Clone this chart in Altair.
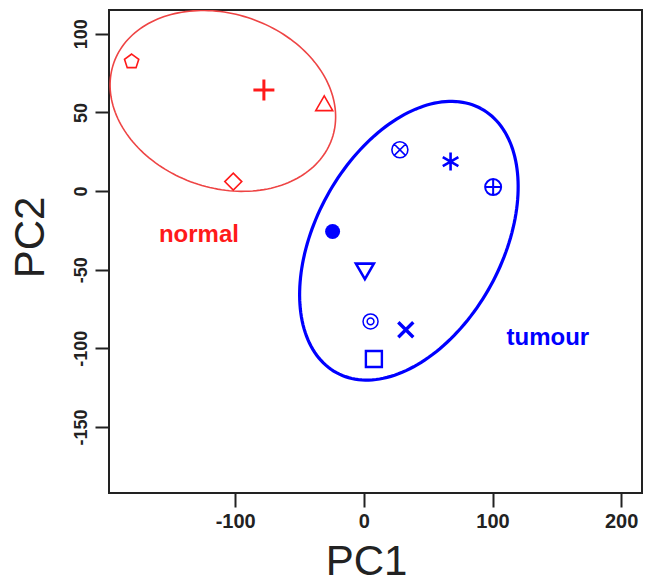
import altair as alt
import numpy as np
import pandas as pd

# ---- data ----
pc1 = [-180.5, -77.7, -30.8, -101.5, 28.0, 67.4, 100.5, -24.3, 0.8, 5.2, 32.6, 7.8]
pc2 = [82.3, 64.3, 55.8, 6.0, 26.2, 18.7, 2.5, -25.7, -51.1, -82.9, -88.2, -106.8]
group = ["normal"] * 4 + ["tumour"] * 8
symbol = ["pentagon", "plus", "triangle", "diamond",
          "circle_x", "asterisk", "circle_plus", "dot",
          "triangle_down", "double_circle", "cross", "square"]

# ellipse parameters (centre and two conjugate semi-axis vectors, data units)
ell_group = ["normal", "tumour"]
ell_cx = [-109.6, 35.0]
ell_cy = [57.3, -31.6]
ell_ax = [84.8, 56.3]
ell_ay = [-24.1, 83.9]
ell_bx = [-22.2, 63.6]
ell_by = [-52.2, -28.5]

label_text = ["normal", "tumour"]
label_x = [-128.2, 143.0]
label_y = [-27.8, -93.3]

x_ticks = [-100, 0, 100, 200]
y_ticks = [-150, -100, -50, 0, 50, 100]

# ---- styles ----
CIRC = "M-1,0A1,1 0 1,0 1,0A1,1 0 1,0 -1,0"
SHAPES = {
    "pentagon": ("M0,-1L0.951,-0.309L0.588,0.809L-0.588,0.809L-0.951,-0.309Z", 15, 1.6),
    "plus": ("M-1,0L1,0M0,-1L0,1", 21, 3.0),
    "triangle": ("triangle-up", 17, 1.6),
    "diamond": ("diamond", 17, 1.6),
    "circle_x": (CIRC + "M-0.7,-0.7L0.7,0.7M-0.7,0.7L0.7,-0.7", 16, 1.6),
    "asterisk": ("M0,-1L0,1M-0.866,-0.5L0.866,0.5M-0.866,0.5L0.866,-0.5", 18, 2.6),
    "circle_plus": (CIRC + "M-1,0L1,0M0,-1L0,1", 16, 2.0),
    "dot": ("circle", 15, 1.0),
    "triangle_down": ("triangle-down", 18, 2.6),
    "double_circle": (CIRC + "M-0.45,0A0.45,0.45 0 1,0 0.45,0A0.45,0.45 0 1,0 -0.45,0", 15, 1.5),
    "cross": ("M-1,-1L1,1M-1,1L1,-1", 15, 3.4),
    "square": ("square", 16, 2.4),
}
GROUP_COLORS = {"normal": "#ff1a1a", "tumour": "#0000ff"}
ELL_COLORS = {"normal": "#ee4444", "tumour": "#0000ff"}
ELL_WIDTH = {"normal": 1.6, "tumour": 3.2}
FONT = "Liberation Sans"

pts = pd.DataFrame({"pc1": pc1, "pc2": pc2, "group": group, "symbol": symbol})
pts["shape"] = [SHAPES[s][0] for s in symbol]
pts["size"] = [SHAPES[s][1] ** 2 for s in symbol]
pts["sw"] = [SHAPES[s][2] for s in symbol]
pts["col"] = [GROUP_COLORS[g] for g in group]

xscale = alt.Scale(domain=[-198.1, 216.2], nice=False, zero=False)
yscale = alt.Scale(domain=[-192.0, 115.1], nice=False, zero=False)

x_axis = alt.Axis(values=x_ticks, title="PC1", grid=False, domain=False,
                  labelExpr="'' + datum.value",
                  tickSize=14, tickWidth=2, tickColor="#222222",
                  labelFont=FONT, labelFontSize=20, labelFontWeight="bold",
                  labelColor="#222222", labelPadding=4,
                  titleFont=FONT, titleFontSize=42, titleFontWeight="normal",
                  titleColor="#222222", titleX=257, titleY=81,
                  titleBaseline="alphabetic", titleAlign="center")
y_axis = alt.Axis(values=y_ticks, title="PC2", grid=False, domain=False,
                  labelExpr="'' + datum.value",
                  tickSize=14, tickWidth=2, tickColor="#222222",
                  labelFont=FONT, labelFontSize=18, labelFontWeight="bold",
                  labelColor="#222222", labelPadding=5, labelAngle=270,
                  labelAlign="center", labelBaseline="bottom",
                  titleFont=FONT, titleFontSize=42, titleFontWeight="normal",
                  titleColor="#222222", titleAngle=270, titleX=-66, titleY=227,
                  titleBaseline="alphabetic", titleAlign="center")

X = alt.X("pc1:Q", scale=xscale, axis=x_axis)
Y = alt.Y("pc2:Q", scale=yscale, axis=y_axis)

layers = []

# ellipses
t = np.linspace(0, 2 * np.pi, 181)
for i, g in enumerate(ell_group):
    edf = pd.DataFrame({
        "pc1": ell_cx[i] + ell_ax[i] * np.cos(t) + ell_bx[i] * np.sin(t),
        "pc2": ell_cy[i] + ell_ay[i] * np.cos(t) + ell_by[i] * np.sin(t),
        "k": np.arange(len(t)),
    })
    layers.append(
        alt.Chart(edf).mark_line(color=ELL_COLORS[g], strokeWidth=ELL_WIDTH[g], clip=True)
        .encode(x=X, y=Y, order="k:Q")
    )

open_pts = alt.Chart(pts).transform_filter("datum.symbol != 'dot'").mark_point(
    filled=False, opacity=1).encode(
    x=X, y=Y,
    shape=alt.Shape("shape:N", scale=None),
    size=alt.Size("size:Q", scale=None),
    strokeWidth=alt.StrokeWidth("sw:Q", scale=None),
    color=alt.Color("col:N", scale=None),
)
dot_pts = alt.Chart(pts).transform_filter("datum.symbol == 'dot'").mark_point(
    filled=True, opacity=1).encode(
    x=X, y=Y,
    shape=alt.Shape("shape:N", scale=None),
    size=alt.Size("size:Q", scale=None),
    color=alt.Color("col:N", scale=None),
)
layers += [open_pts, dot_pts]

lab = pd.DataFrame({"pc1": label_x, "pc2": label_y, "text": label_text,
                    "col": [GROUP_COLORS[g] for g in label_text]})
texts = alt.Chart(lab).mark_text(font=FONT, fontSize=24, fontWeight="bold").encode(
    x=X, y=Y, text="text:N", color=alt.Color("col:N", scale=None)
)
layers.append(texts)

chart = alt.layer(*layers).properties(
    width=533, height=483,
    autosize=alt.AutoSizeParams(type="none"),
    padding={"left": 109, "top": 10, "right": 8, "bottom": 91},
    background="white",
).configure_view(stroke="#222222", strokeWidth=2)

chart.save("out.html", embed_options={"renderer": "svg", "actions": False})
